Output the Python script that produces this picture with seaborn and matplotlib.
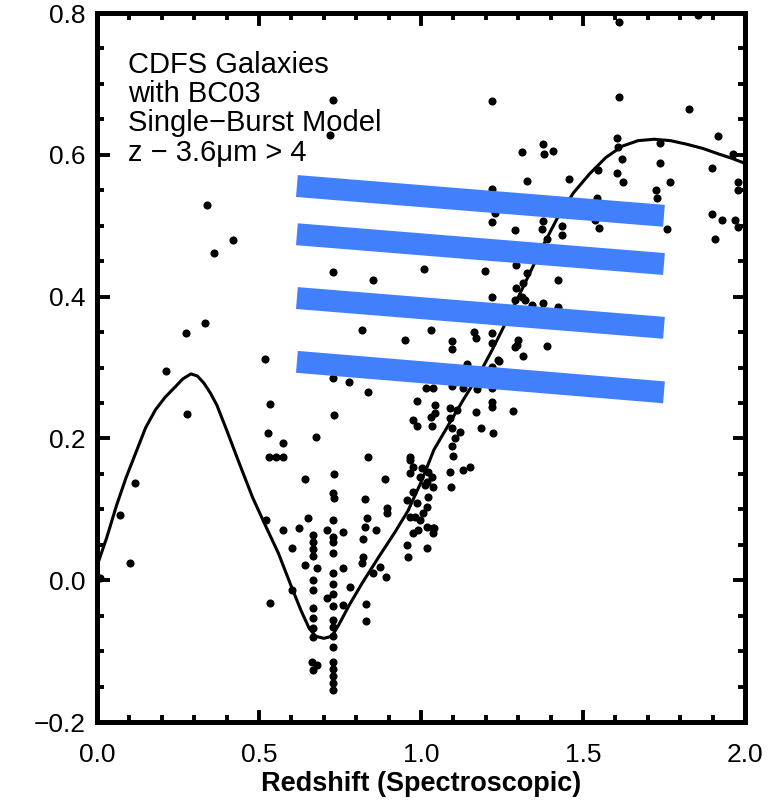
import numpy as np
import pandas as pd
import seaborn as sns
import matplotlib.pyplot as plt
from matplotlib.ticker import MultipleLocator, FuncFormatter

# galaxies (spectroscopic redshift, colour)
gal_z = [0.728, 0.719, 0.340, 0.420, 0.361, 0.333, 0.275, 0.213, 0.278, 0.117,
         0.519, 0.534, 0.528, 0.574, 0.531, 0.552, 0.574, 0.818, 0.728, 0.778,
         0.836, 0.951, 1.031, 1.096, 1.096, 1.164, 1.170, 1.219, 1.219, 1.299,
         1.296, 1.315, 1.142, 1.241, 1.219, 1.015, 1.037, 1.096, 1.130, 1.173,
         1.219, 0.988, 1.043, 1.043, 1.090, 1.111, 1.219, 1.219, 1.170, 1.284,
         0.731, 0.975, 0.988, 1.031, 1.034, 1.090, 1.096, 1.120, 1.185, 1.222,
         0.676, 0.836, 0.731, 0.642, 0.889, 0.728, 0.731, 0.827, 0.895, 0.895,
         1.093, 1.151, 1.130, 1.090, 0.522, 0.574, 0.623, 0.651, 0.710, 0.728,
         0.759, 0.728, 0.728, 0.821, 0.827, 0.861, 0.833, 1.037, 1.019, 0.667,
         0.667, 0.667, 0.667, 0.602, 0.728, 0.679, 0.642, 0.759, 0.821, 0.818,
         0.852, 0.873, 0.892, 0.728, 0.728, 0.728, 0.728, 0.728, 0.667, 0.667,
         0.602, 0.781, 0.710, 0.759, 0.534, 0.830, 0.830, 0.667, 0.667, 0.667,
         0.667, 0.728, 0.728, 0.728, 0.664, 0.679, 0.667, 0.728, 0.728, 0.728,
         0.728, 0.728, 0.957, 0.960, 1.040,
         1.611, 1.219, 1.611, 1.827, 1.917, 1.377, 1.380, 1.407, 1.312, 1.605,
         1.608, 1.738, 1.620, 1.738, 1.898, 1.605, 1.623, 1.769, 1.457, 1.327,
         1.546, 1.963, 1.978, 1.978, 1.725, 1.728, 1.543, 1.219, 1.898, 1.929,
         1.969, 1.978, 1.759, 1.907, 1.219, 1.290, 1.377, 1.373, 1.435, 1.435,
         1.549, 1.228, 1.537, 1.389, 1.198, 1.293, 1.327, 1.423, 1.293, 1.219,
         1.315, 1.290, 1.321, 1.343, 1.377, 1.423, 1.290, 1.389, 1.238, 0.728,
         0.852, 1.009, 1.855, 1.312, 0.009, 0.071, 0.102,
         0.966, 0.975, 0.966, 0.997, 1.019, 1.037, 0.975, 0.957, 0.988, 1.019,
         0.966, 0.997, 1.019, 0.975, 1.037,
         0.966, 1.003, 1.022, 1.034, 1.012, 1.022, 0.981, 1.006, 0.991,
         1.096, 1.100, 1.105]
gal_col = [0.677, 0.628, 0.529, 0.480, 0.461, 0.363, 0.349, 0.295, 0.234, 0.137,
           0.312, 0.249, 0.208, 0.194, 0.174, 0.174, 0.174, 0.353, 0.285, 0.280,
           0.265, 0.339, 0.353, 0.337, 0.326, 0.350, 0.342, 0.349, 0.335, 0.339,
           0.332, 0.316, 0.305, 0.309, 0.301, 0.271, 0.271, 0.274, 0.271, 0.270,
           0.271, 0.253, 0.247, 0.236, 0.243, 0.240, 0.251, 0.244, 0.237, 0.239,
           0.233, 0.226, 0.217, 0.230, 0.217, 0.229, 0.215, 0.209, 0.215, 0.208,
           0.202, 0.174, 0.150, 0.143, 0.143, 0.123, 0.116, 0.115, 0.102, 0.095,
           0.131, 0.160, 0.155, 0.153, 0.085, 0.071, 0.074, 0.088, 0.071, 0.085,
           0.068, 0.061, 0.054, 0.058, 0.075, 0.071, 0.088, 0.074, 0.045, 0.064,
           0.054, 0.044, 0.034, 0.045, 0.038, 0.017, 0.021, 0.017, 0.033, 0.024,
           0.010, 0.019, 0.005, 0.010, -0.005, -0.020, -0.036, -0.056, 0.000, -0.014,
           -0.014, -0.010, -0.025, -0.035, -0.032, -0.034, -0.058, -0.039, -0.053, -0.067,
           -0.080, -0.066, -0.078, -0.094, -0.115, -0.120, -0.127, -0.115, -0.125, -0.135,
           -0.145, -0.155, 0.050, 0.033, 0.074,
           0.787, 0.676, 0.682, 0.665, 0.627, 0.615, 0.601, 0.605, 0.604, 0.624,
           0.611, 0.617, 0.594, 0.588, 0.581, 0.574, 0.562, 0.562, 0.566, 0.563,
           0.579, 0.601, 0.562, 0.550, 0.550, 0.539, 0.539, 0.552, 0.517, 0.508,
           0.508, 0.498, 0.495, 0.481, 0.505, 0.494, 0.507, 0.495, 0.500, 0.487,
           0.497, 0.518, 0.508, 0.481, 0.436, 0.445, 0.433, 0.423, 0.412, 0.399,
           0.419, 0.395, 0.395, 0.388, 0.391, 0.385, 0.329, 0.330, 0.311, 0.435,
           0.423, 0.439, 0.797, 0.399, 0.003, 0.092, 0.024,
           0.174, 0.160, 0.151, 0.146, 0.139, 0.131, 0.124, 0.113, 0.109, 0.103,
           0.089, 0.085, 0.075, 0.067, 0.067,
           0.170, 0.158, 0.153, 0.146, 0.134, 0.117, 0.089, 0.095, 0.071,
           0.190, 0.175, 0.200]

# BC03 single-burst model track
model_z = [0.0, 0.03, 0.06, 0.09, 0.12, 0.15, 0.18, 0.21, 0.24, 0.265,
           0.29, 0.31, 0.33, 0.35, 0.37, 0.40, 0.44, 0.48, 0.52, 0.56,
           0.60, 0.63, 0.655, 0.675, 0.70, 0.725, 0.745, 0.78, 0.82, 0.87,
           0.92, 0.96, 1.0, 1.04, 1.09, 1.13, 1.18, 1.22, 1.27, 1.32,
           1.37, 1.42, 1.47, 1.52, 1.57, 1.62, 1.67, 1.72, 1.77, 1.82,
           1.87, 1.92, 1.96, 2.0]
model_col = [0.02, 0.06, 0.105, 0.145, 0.18, 0.215, 0.24, 0.258, 0.272, 0.284,
             0.291, 0.288, 0.278, 0.264, 0.247, 0.212, 0.164, 0.117, 0.077, 0.038,
             -0.009, -0.043, -0.068, -0.079, -0.082, -0.079, -0.064, -0.034, -0.003, 0.033,
             0.068, 0.098, 0.138, 0.184, 0.223, 0.254, 0.291, 0.325, 0.371, 0.418,
             0.466, 0.510, 0.546, 0.573, 0.596, 0.612, 0.620, 0.622, 0.620, 0.615,
             0.609, 0.601, 0.595, 0.588]

# overlaid blue bars (start/end in data units)
bar_x = [0.617, 1.750]
bar_y = [[0.556, 0.514], [0.488, 0.446], [0.398, 0.356], [0.308, 0.265]]

sns.set_theme(style="white")
plt.rcParams['font.family'] = ['Liberation Sans', 'DejaVu Sans']

fig = plt.figure(figsize=(7.74, 8.05), dpi=100)
ax = fig.add_axes([0.1253, 0.1031, 0.8372, 0.8807])

df = pd.DataFrame(dict(z=gal_z, col=gal_col))
sns.scatterplot(data=df, x="z", y="col", ax=ax, color="black", s=34,
                linewidth=0, zorder=2)
sns.lineplot(x=model_z, y=model_col, ax=ax, color="black", lw=2.2,
             sort=False, zorder=3)
for yy in bar_y:
    ax.plot(bar_x, yy, color="#4180fa", lw=15.8, solid_capstyle="butt", zorder=4)

ax.set_xlim(0, 2.0)
ax.set_ylim(-0.2, 0.8)
ax.xaxis.set_major_locator(MultipleLocator(0.5))
ax.xaxis.set_minor_locator(MultipleLocator(0.1))
ax.yaxis.set_major_locator(MultipleLocator(0.2))
ax.yaxis.set_minor_locator(MultipleLocator(0.05))
fmt = FuncFormatter(lambda v, p: f"{v:.1f}".replace("-", "\u2212"))
ax.xaxis.set_major_formatter(fmt)
ax.yaxis.set_major_formatter(fmt)

ax.tick_params(which="both", direction="in", top=True, right=True,
               bottom=True, left=True, width=2.8, color="black",
               labelsize=19, labelcolor="black")
ax.tick_params(which="major", length=9)
ax.tick_params(which="minor", length=5)
ax.tick_params(axis="x", which="major", pad=15)
ax.tick_params(axis="y", which="major", pad=8)
for sp in ax.spines.values():
    sp.set_linewidth(3.6)
    sp.set_color("black")
    sp.set_zorder(5)

ax.set_xlabel("Redshift (Spectroscopic)", fontsize=19.5, fontweight="bold",
              labelpad=3, color="black")
ax.set_ylabel("")

ax.text(0.048, 0.947, "CDFS Galaxies\nwith BC03\nSingle\u2212Burst Model\nz \u2212 3.6\u03bcm > 4",
        transform=ax.transAxes, ha="left", va="top", fontsize=21,
        linespacing=1.06, color="black")

fig.savefig("out.png", dpi=100)
